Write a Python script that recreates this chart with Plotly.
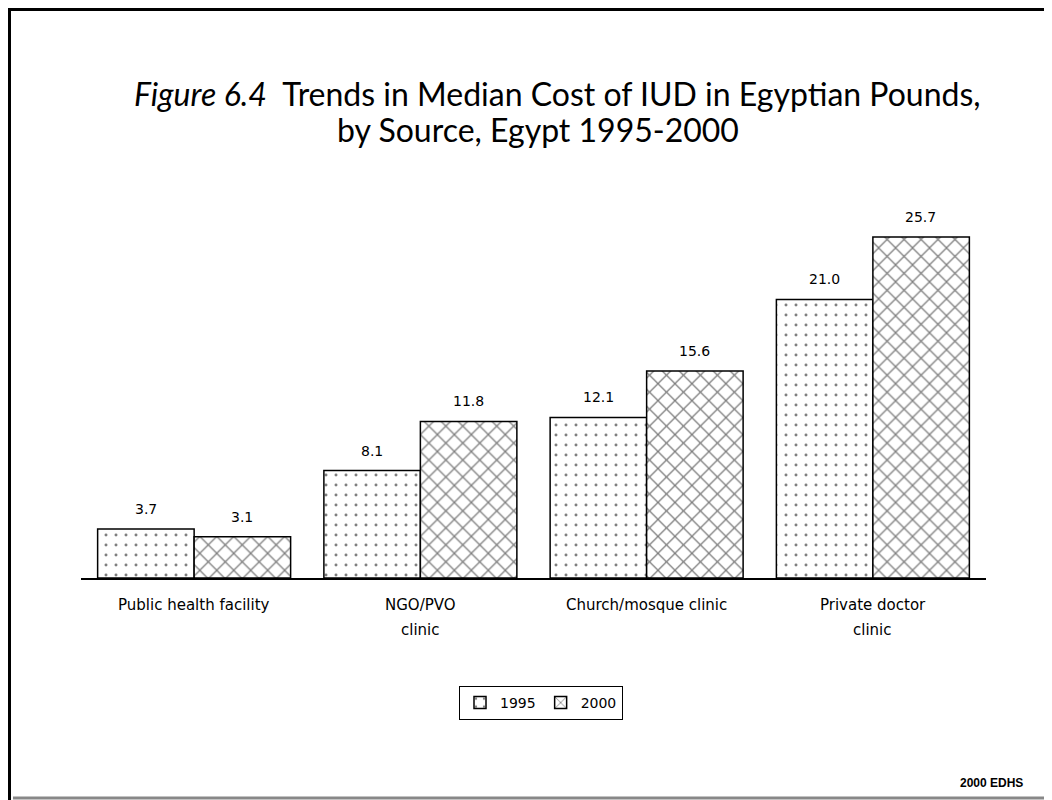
import plotly.graph_objects as go

categories = ["Public health facility", "NGO/PVO clinic", "Church/mosque clinic", "Private doctor clinic"]
label_line1 = ["Public health facility", "NGO/PVO", "Church/mosque clinic", "Private doctor"]
label_line2 = ["", "clinic", "", "clinic"]
values_1995 = [3.7, 8.1, 12.1, 21.0]
values_2000 = [3.1, 11.8, 15.6, 25.7]
series_names = ["1995", "2000"]

OFF = 8  # page body margin offset
W, H = 1052, 800
L, T = 81 - OFF, 180 - OFF
R = W - (986 - OFF)
B = H - (578 - OFF)
pw, ph = W - L - R, H - T - B

def px_x(p):
    return (p - OFF - L) / pw

def px_y(p):
    return (H - B - (p - OFF)) / ph

fig = go.Figure()
fig.add_trace(go.Bar(
    x=categories, y=values_1995, name=series_names[0],
    marker=dict(color="white", line=dict(color="black", width=1.5),
                pattern=dict(shape=".", fgcolor="black", bgcolor="white", size=10, solidity=0.07)),
))
fig.add_trace(go.Bar(
    x=categories, y=values_2000, name=series_names[1],
    marker=dict(color="white", line=dict(color="black", width=1.5),
                pattern=dict(shape="x", fgcolor="black", bgcolor="white", size=12, solidity=0.2)),
))

annotations = []
font_val = dict(family="DejaVu Sans", size=14, color="black")
font_cat = dict(family="DejaVu Sans", size=15, color="black")
for c, v1, v2 in zip(categories, values_1995, values_2000):
    annotations.append(dict(x=c, y=v1, xref="x", yref="y", text=f"{v1:.1f}", showarrow=False,
                            xshift=-48, yshift=10, yanchor="bottom", font=font_val))
    annotations.append(dict(x=c, y=v2, xref="x", yref="y", text=f"{v2:.1f}", showarrow=False,
                            xshift=48, yshift=10, yanchor="bottom", font=font_val))
for c, l1, l2 in zip(categories, label_line1, label_line2):
    annotations.append(dict(x=c, y=px_y(605), xref="x", yref="paper", text=l1, showarrow=False,
                            yanchor="middle", font=font_cat))
    if l2:
        annotations.append(dict(x=c, y=px_y(630), xref="x", yref="paper", text=l2, showarrow=False,
                                yanchor="middle", font=font_cat))

annotations.append(dict(x=px_x(557), y=px_y(93), xref="paper", yref="paper", showarrow=False,
                        text="<i>Figure 6.4</i>&nbsp;&nbsp;Trends in Median Cost of IUD in Egyptian Pounds,",
                        font=dict(family="Lato", size=32, color="black"), yanchor="middle"))
annotations.append(dict(x=px_x(538), y=px_y(129), xref="paper", yref="paper", showarrow=False,
                        text="by Source, Egypt 1995-2000",
                        font=dict(family="Lato", size=32, color="black"), yanchor="middle"))
annotations.append(dict(x=px_x(1025), y=px_y(783), xref="paper", yref="paper", showarrow=False,
                        text="<b>2000 EDHS</b>", xanchor="right", yanchor="middle",
                        font=dict(family="Liberation Sans, Arial", size=12, color="black")))

shapes = [
    dict(type="line", xref="paper", yref="paper", x0=px_x(9.5), x1=px_x(9.5), y0=px_y(8), y1=px_y(800),
         line=dict(color="black", width=3)),
    dict(type="line", xref="paper", yref="paper", x0=px_x(8), x1=px_x(1060), y0=px_y(9.5), y1=px_y(9.5),
         line=dict(color="black", width=3)),
    dict(type="line", xref="paper", yref="paper", x0=px_x(13), x1=px_x(1060), y0=px_y(798), y1=px_y(798),
         line=dict(color="#888888", width=3)),
]

fig.update_layout(
    width=W, height=H,
    margin=dict(l=L, r=R, t=T, b=B, autoexpand=False),
    paper_bgcolor="white", plot_bgcolor="white",
    barmode="group", bargap=0.147, bargroupgap=0,
    showlegend=True,
    legend=dict(orientation="h", x=px_x(541), xanchor="center", y=px_y(686), yanchor="top",
                bordercolor="black", borderwidth=1, bgcolor="white",
                font=dict(family="DejaVu Sans", size=14, color="black"),
                itemwidth=30, tracegroupgap=0),
    annotations=annotations,
    shapes=shapes,
    xaxis=dict(showline=True, linecolor="black", linewidth=2, showticklabels=False, ticks="",
               showgrid=False, zeroline=False, range=[-0.5, 3.5]),
    yaxis=dict(range=[0, 30], visible=False, showgrid=False, zeroline=False),
)

fig.write_html("out.html")
